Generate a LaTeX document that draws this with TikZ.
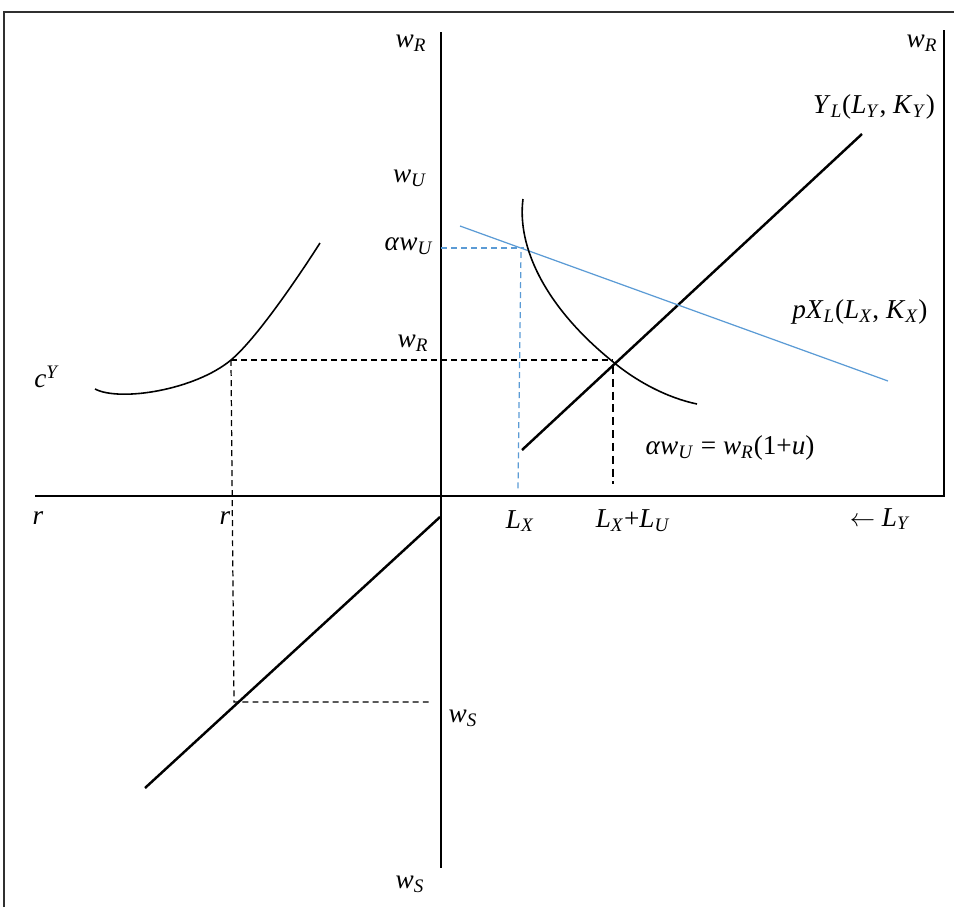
\documentclass[tikz,border=0pt]{standalone}
\usepackage{fontspec}
\setmainfont{Liberation Serif}
\usepackage{xcolor}
\usetikzlibrary{positioning}
\definecolor{lineblue}{HTML}{5B9BD5}
\definecolor{framegray}{HTML}{303030}
\newcommand{\vsub}[2]{\textit{#1}\textsubscript{\textit{#2}}}
\tikzset{
  axisline/.style={draw=black, line width=1.2pt},
  curveline/.style={draw=black, line width=0.9pt},
  boldline/.style={draw=black, line width=1.4pt},
  guideline/.style={draw=black, line width=0.7pt,
    dash pattern=on 3.4pt off 2.3pt},
  guidebold/.style={draw=black, line width=1.3pt,
    dash pattern=on 4.5pt off 2.8pt},
  blueline/.style={draw=lineblue, line width=0.7pt},
  blueguide/.style={draw=lineblue, line width=0.7pt,
    dash pattern=on 3.4pt off 2.3pt},
  frameline/.style={draw=framegray, line width=0.6pt},
  lbl/.style={font=\fontsize{15.5}{18}\selectfont, inner sep=0pt},
}

\begin{document}
\begin{tikzpicture}[x=0.02cm, y=-0.02cm]
  \useasboundingbox (0,0) rectangle (954,907);
  % frame
  \coordinate (fbl) at (4,907);
  \coordinate (ftl) at (4,12);
  \coordinate (ftr) at (954,12);
  \draw[frameline] (fbl) -- (ftl) -- (ftr);
  % axes
  \coordinate (o) at (441,496);
  \coordinate (vtop) at (441,32);
  \coordinate (vbot) at (441,868);
  \coordinate (hleft) at (35,496);
  \coordinate (hright) at (944,496);
  \coordinate (rtop) at (944,30);
  \draw[axisline] (vtop) -- (vbot);
  \draw[axisline] (hleft) -- (hright) -- (rtop);
  % key points
  \coordinate (eq) at (612,361);
  \coordinate (cpt) at (231,360);
  \coordinate (eqh) at (612,360);
  \coordinate (spt) at (234,702);
  \coordinate (spte) at (430,702);
  \coordinate (eqtop) at (613,366);
  \coordinate (eqfoot) at (613,484);
  \coordinate (bluept) at (524,248);
  \coordinate (awu) at (441,248);
  \coordinate (lxtop) at (521,252);
  \coordinate (lxfoot) at (518,490);
  % Y_L line and pX_L line
  \coordinate (ylstart) at (522,450);
  \coordinate (ylend) at (862,134);
  \draw[boldline] (ylstart) -- (ylend);
  \coordinate (pxstart) at (460,226);
  \coordinate (pxend) at (888,381);
  \draw[blueline] (pxstart) -- (pxend);
  % iso curve
  \coordinate (isotop) at (523,199);
  \coordinate (isoend) at (697,404);
  \draw[curveline] (isotop) .. controls (517,245) and (543,305) .. (eq)
    .. controls (637,382) and (668,398) .. (isoend);
  % c^Y curve
  \coordinate (cystart) at (95,389);
  \coordinate (cyend) at (320,243);
  \draw[curveline] (cystart) .. controls (120,402) and (195,390) .. (cpt)
    .. controls (256,339) and (297,279) .. (cyend);
  % lower line
  \coordinate (lowstart) at (145,788);
  \coordinate (lowend) at (440,517);
  \draw[boldline] (lowstart) -- (lowend);
  % guides
  \draw[guideline] (cpt) -- (eqh);
  \draw[guideline] (cpt) -- (spt) -- (spte);
  \draw[guidebold] (eqtop) -- (eqfoot);
  \draw[blueguide] (awu) -- (bluept);
  \draw[blueguide] (lxtop) -- (lxfoot);
  % labels
  \node[lbl] (wrtop) at (411,43) {\vsub{w}{R}};
  \node[lbl] (wrright) at (922,43) {\vsub{w}{R}};
  \node[lbl] (wulbl) at (410,178) {\vsub{w}{U}};
  \node[lbl] (awulbl) at (409,246) {\textit{α}\vsub{w}{U}};
  \node[lbl] (wrmid) at (413,343) {\vsub{w}{R}};
  \node[lbl] (yllbl) at (874,107) {\vsub{Y}{L}(\vsub{L}{Y}, \vsub{K}{Y})};
  \node[lbl] (pxlbl) at (860,312) {\textit{p}\vsub{X}{L}(\vsub{L}{X}, \vsub{K}{X})};
  \node[lbl] (cylbl) at (47,377) {\textit{c}\textsuperscript{\textit{Y}}};
  \node[lbl] (condlbl) at (730,448) {\textit{α}\vsub{w}{U} = \vsub{w}{R}(1+\textit{u})};
  \node[lbl] (rleft) at (38,518) {\textit{r}};
  \node[lbl] (rmid) at (225,518) {\textit{r}};
  \node[lbl] (lxlbl) at (520,521) {\vsub{L}{X}};
  \node[lbl] (lxulbl) at (633,521) {\vsub{L}{X}+\vsub{L}{U}};
  \node[lbl] (lylbl) at (880,519) {$\leftarrow$ \vsub{L}{Y}};
  \node[lbl] (wsmid) at (463,718) {\vsub{w}{S}};
  \node[lbl] (wsbot) at (410,884) {\vsub{w}{S}};
\end{tikzpicture}
\end{document}
